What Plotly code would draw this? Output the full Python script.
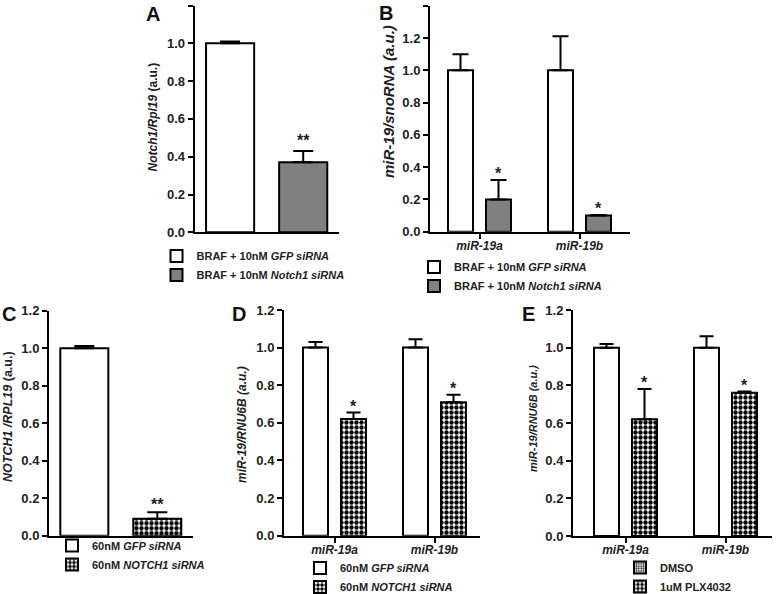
import plotly.graph_objects as go

W, H = 777, 594
FONT = "Liberation Sans, Arial, sans-serif"

# ---------------- data ----------------
A_cats = ["A"]
A_gfp = [1.00]
A_gfp_err = [0.010]
A_notch = [0.37]
A_notch_err = [0.06]
A_sig = ["**"]

B_cats = ["miR-19a", "miR-19b"]
B_gfp = [1.00, 1.00]
B_gfp_err = [0.10, 0.21]
B_notch = [0.20, 0.10]
B_notch_err = [0.12, 0.004]
B_sig = ["*", "*"]

C_cats = ["C"]
C_gfp = [1.00]
C_gfp_err = [0.012]
C_notch = [0.09]
C_notch_err = [0.035]
C_sig = ["**"]

D_cats = ["miR-19a", "miR-19b"]
D_gfp = [1.00, 1.00]
D_gfp_err = [0.03, 0.045]
D_notch = [0.62, 0.71]
D_notch_err = [0.035, 0.04]
D_sig = ["*", "*"]

E_cats = ["miR-19a", "miR-19b"]
E_dmso = [1.00, 1.00]
E_dmso_err = [0.02, 0.06]
E_plx = [0.62, 0.76]
E_plx_err = [0.16, 0.007]
E_sig = ["*", "*"]

BARGAP = 0.24
BARGROUPGAP = 0.342

def xd(a, b):
    return [a / W, b / W]

def yd(top, bottom):
    return [1 - bottom / H, 1 - top / H]

def px(x):
    return x / W

def py(y):
    return 1 - y / H

checker = dict(shape=".", fgcolor="black", bgcolor="white", size=5, solidity=0.6, fillmode="replace")
fine = dict(shape=".", fgcolor="#333333", bgcolor="white", size=3, solidity=0.5, fillmode="replace")

fig = go.Figure()

def err(arr, w):
    return dict(type="data", array=arr, arrayminus=[0] * len(arr), symmetric=False,
                color="black", thickness=2, width=w)

def add_bar(cats, vals, errs, name, ax, legend, fill, pattern=None, w=8, show=True, og=None, rank=1):
    fig.add_trace(go.Bar(
        x=cats, y=vals, name=name, xaxis="x" + ax, yaxis="y" + ax, legend=legend,
        marker=dict(color=fill, line=dict(color="black", width=2),
                    pattern=pattern if pattern else dict(shape="")),
        error_y=err(errs, w) if errs is not None else None,
        showlegend=show, offsetgroup=og, legendrank=rank, hoverinfo="skip",
    ))

# Panel A
add_bar(A_cats, A_gfp, A_gfp_err, "BRAF + 10nM <i>GFP siRNA</i>", "", "legend", "white", w=10)
add_bar(A_cats, A_notch, A_notch_err, "BRAF + 10nM <i>Notch1 siRNA</i>", "", "legend", "#808080", w=10)
# Panel B
add_bar(B_cats, B_gfp, B_gfp_err, "BRAF + 10nM <i>GFP siRNA</i>", "2", "legend2", "white", w=8)
add_bar(B_cats, B_notch, B_notch_err, "BRAF + 10nM <i>Notch1 siRNA</i>", "2", "legend2", "#808080", w=8)
# Panel C
add_bar(C_cats, C_gfp, C_gfp_err, "60nM <i>GFP siRNA</i>", "3", "legend3", "white", w=10)
add_bar(C_cats, C_notch, C_notch_err, "60nM <i>NOTCH1 siRNA</i>", "3", "legend3", "white", pattern=checker, w=10)
# Panel D
add_bar(D_cats, D_gfp, D_gfp_err, "60nM <i>GFP siRNA</i>", "4", "legend4", "white", w=7)
add_bar(D_cats, D_notch, D_notch_err, "60nM <i>NOTCH1 siRNA</i>", "4", "legend4", "white", pattern=checker, w=7)
# Panel E
add_bar(E_cats, E_dmso, E_dmso_err, "DMSO", "5", "legend5", "white", w=7, show=False, og="a")
add_bar(E_cats, [None, None], None, "DMSO", "5", "legend5", "white", pattern=fine, og="a", rank=1)
add_bar(E_cats, E_plx, E_plx_err, "1uM PLX4032", "5", "legend5", "white", pattern=checker, w=7, og="b", rank=2)

axis_common = dict(showline=True, linecolor="black", linewidth=2, showgrid=False, zeroline=False,
                   ticks="outside", ticklen=5, tickwidth=2, tickcolor="black", fixedrange=True,
                   tickfont=dict(family=FONT, size=13, color="#222", weight="bold"))

def set_axes(suffix, xdom, ydom, xrange, yrange, showcat):
    xa = dict(axis_common, domain=xdom, range=xrange, anchor="y" + suffix, type="category",
              showticklabels=showcat, ticks="outside" if showcat else "",
              ticklabelstandoff=-3,
              tickfont=dict(family=FONT, size=12, color="#222", weight="bold", style="italic"))
    ya = dict(axis_common, domain=ydom, range=yrange, anchor="x" + suffix, dtick=0.2,
              tickformat=".1f")
    fig.update_layout(**{"xaxis" + suffix: xa, "yaxis" + suffix: ya})

set_axes("", xd(194.7, 339), yd(5.5, 232.3), [-0.374, 0.376], [0, 1.2], False)
set_axes("2", xd(430, 630), yd(5.7, 231.7), [-0.495, 1.505], [0, 1.4], True)
set_axes("3", xd(49, 193), yd(310.7, 535.7), [-0.374, 0.376], [0, 1.2], False)
set_axes("4", xd(284, 480), yd(310, 535.7), [-0.505, 1.455], [0, 1.2], True)
set_axes("5", xd(573, 772), yd(310, 536), [-0.525, 1.465], [0, 1.2], True)

ann = []
# significance marks
off = (1 - BARGAP) / 4
def sig(ax, vals, errs, marks, ys):
    for i, (v, e, m) in enumerate(zip(vals, errs, marks)):
        ann.append(dict(x=i + off, y=v + e, xref="x" + ax, yref="y" + ax, text=m, showarrow=False,
                        yanchor="bottom", yshift=ys,
                        font=dict(family=FONT, size=16, color="#222", weight="bold")))
sig("", A_notch, A_notch_err, A_sig, 0)
sig("2", B_notch, B_notch_err, B_sig, -4)
sig("3", C_notch, C_notch_err, C_sig, -3)
sig("4", D_notch, D_notch_err, D_sig, -4)
sig("5", E_plx, E_plx_err, E_sig, -4)

# panel letters
for t, x, y in [("A", 153, 14), ("B", 386, 13), ("C", 9, 314), ("D", 239, 314), ("E", 528, 314)]:
    ann.append(dict(x=px(x), y=py(y), xref="paper", yref="paper", text=t, showarrow=False,
                    xanchor="center", yanchor="middle",
                    font=dict(family=FONT, size=20, color="#111", weight="bold")))

# y-axis titles
for t, x, y, s, wt in [("<i>Notch1/Rpl19</i> (a.u.)", 153, 117.5, 12, "bold"),
                       ("<i>miR-19/snoRNA (a.u.)</i>", 389, 101, 15, "bold"),
                       ("<i>NOTCH1 /RPL19</i> (a.u.)", 8, 417, 12.5, "bold"),
                       ("<i>miR-19/RNU6B (a.u.)</i>", 242, 425, 12, "bold"),
                       ("<i>miR-19/RNU6B (a.u.)</i>", 533, 419, 11, "bold")]:
    ann.append(dict(x=px(x), y=py(y), xref="paper", yref="paper", text=t, showarrow=False,
                    textangle=-90, xanchor="center", yanchor="middle",
                    font=dict(family=FONT, size=s, color="#222", weight=wt)))

def leg(x, y):
    return dict(x=px(x), y=py(y), xanchor="left", yanchor="top", bgcolor="rgba(0,0,0,0)",
                font=dict(family=FONT, size=11, color="#222", weight="bold"),
                tracegroupgap=0, itemclick=False, itemdoubleclick=False)

fig.update_layout(
    width=W, height=H, margin=dict(l=0, r=0, t=0, b=0, autoexpand=False),
    paper_bgcolor="white", plot_bgcolor="white",
    barmode="group", bargap=BARGAP, bargroupgap=BARGROUPGAP,
    showlegend=True, hovermode=False,
    legend=leg(156.5, 241.5), legend2=leg(414, 252.5), legend3=leg(52, 531),
    legend4=leg(300, 553.5), legend5=leg(620, 553),
    annotations=ann,
)

fig.write_html("out.html", config={"displayModeBar": False, "staticPlot": False},
               post_script="document.body.style.margin='0px';document.body.style.overflow='hidden';")
